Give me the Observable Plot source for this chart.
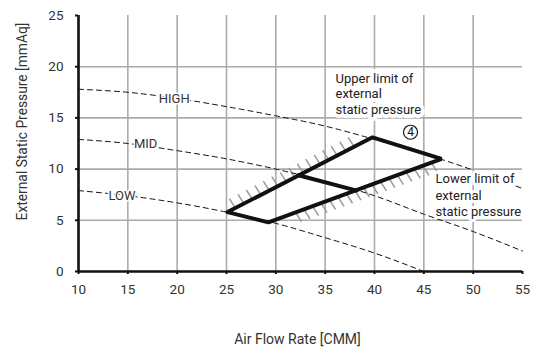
<!DOCTYPE html>
<html><head><meta charset="utf-8">
<script src="https://cdn.jsdelivr.net/npm/d3@7"></script>
<script src="https://cdn.jsdelivr.net/npm/@observablehq/plot@0.6"></script>
<style>
html,body{margin:0;padding:0;background:#fff;}
#chart svg{display:block;}
</style></head><body><div id="chart"></div>
<script>
// ---- data ----
const xTicks = [10,15,20,25,30,35,40,45,50,55];
const yTicks = [0,5,10,15,20,25];
const xGrid = [15,20,25,30,35,40,45,50];
const yGrid = [5,10,15,20];

const airFlow = [10,15,20,25,30,35,40,45,50,55];
const highP  = [17.8,17.5,16.9,16.1,15.2,14.2,12.9,11.5,9.9,8.1];
const midP   = [12.9,12.5,11.8,11.0,10.0,8.8,7.4,5.6,3.9,2.0];
const lowFlow = [10,15,20,25,30,35,40,45];
const lowP    = [7.9,7.4,6.7,5.8,4.7,3.3,1.8,0.0];

// operating range (4): left, top, right, bottom, back to left
const rangeFlow = [25.1,39.8,46.8,29.25,25.1];
const rangeP    = [5.8,13.1,11.0,4.8,5.8];
// inner division along MID
const innerFlow = [32.3,38.2];
const innerP    = [9.4,7.9];

const curveNames = ["HIGH","MID","LOW"];
const curveLabelFlow = [19.7,16.8,14.4];
const curveLabelP = [16.9,12.5,7.4];

const noteTexts = ["Upper limit of\nexternal\nstatic pressure", "Lower limit of\nexternal\nstatic pressure"];
const noteFlow = [36.05, 46.18];
const noteP = [19.5, 9.75];
const noteLineHeight = [1.2, 1.27];

const markText = ["4"];
const markFlow = [43.65];
const markP = [13.6];

const xTitle = "Air Flow Rate [CMM]";
const yTitle = "External Static Pressure [mmAq]";

// ---- layout ----
const W = 534, H = 349, ML = 78, MR = 12, MT = 15, MB = 78;
const xDomain = [10,55], yDomain = [0,25];

const pts = (xs, ys) => xs.map((x,i) => ({x, y: ys[i]}));

// hatch ticks along the two long edges of the range (decoration)
const pxX = (xDomain[1]-xDomain[0])/(W-ML-MR);
const pxY = (yDomain[1]-yDomain[0])/(H-MT-MB);
const hdx = 6*pxX, hdy = 9.5*pxY;
function edgeY(x0,y0,x1,y1,x){ return y0 + (y1-y0)*(x-x0)/(x1-x0); }
const hatches = [];
for (let x = 25.9; x <= 38.7; x += 0.86) {
  const y = edgeY(rangeFlow[0],rangeP[0],rangeFlow[1],rangeP[1],x);
  hatches.push({x1:x, y1:y, x2:x-hdx, y2:y+hdy});
}
for (let x = 32.0; x <= 46.6; x += 0.86) {
  const y = edgeY(rangeFlow[3],rangeP[3],rangeFlow[2],rangeP[2],x);
  hatches.push({x1:x, y1:y, x2:x+hdx, y2:y-hdy});
}

const font = "Roboto, 'Liberation Sans', sans-serif";

const chart = Plot.plot({
  width: W, height: H,
  marginLeft: ML, marginRight: MR, marginTop: MT, marginBottom: MB,
  x: {domain: xDomain},
  y: {domain: yDomain},
  style: {fontFamily: font, fontSize: "13px", color: "#222", background: "white"},
  marks: [
    Plot.ruleX(xGrid, {stroke: "#ababab", strokeWidth: 1.6}),
    Plot.ruleY(yGrid, {stroke: "#ababab", strokeWidth: 1.6}),
    // hatching
    Plot.link(hatches, {x1: "x1", y1: "y1", x2: "x2", y2: "y2", stroke: "#9a9a9a", strokeWidth: 1.5}),
    // fan curves
    Plot.line(pts(airFlow, highP), {x: "x", y: "y", curve: "monotone-x", stroke: "#111", strokeWidth: 1, strokeDasharray: "5,4"}),
    Plot.line(pts(airFlow, midP), {x: "x", y: "y", curve: "monotone-x", stroke: "#111", strokeWidth: 1, strokeDasharray: "5,4"}),
    Plot.line(pts(lowFlow, lowP), {x: "x", y: "y", curve: "monotone-x", stroke: "#111", strokeWidth: 1, strokeDasharray: "5,4"}),
    // operating range
    Plot.line(pts(rangeFlow, rangeP), {x: "x", y: "y", stroke: "#111", strokeWidth: 3.9, strokeLinejoin: "miter"}),
    Plot.line(pts(innerFlow, innerP), {x: "x", y: "y", stroke: "#111", strokeWidth: 3.9}),
    // axes
    Plot.ruleY([yDomain[0]], {stroke: "#111", strokeWidth: 2.6}),
    Plot.ruleX([xDomain[0]], {stroke: "#111", strokeWidth: 2.6}),
    Plot.axisX(xTicks, {tickSize: 3, tickPadding: 10, label: null, fontSize: 13.5, stroke: "#111", strokeWidth: 2, color: "#333"}),
    Plot.axisY(yTicks, {tickSize: 3, tickPadding: 12, label: null, fontSize: 13.5, stroke: "#111", strokeWidth: 2, color: "#333"}),
    // labels (white halo hides grid behind them)
    Plot.text(curveNames, {x: curveLabelFlow, y: curveLabelP, text: d => d, fill: "#333", stroke: "white", strokeWidth: 3, fontSize: 13}),
    Plot.text([noteTexts[0]], {x: [noteFlow[0]], y: [noteP[0]], text: d => d, textAnchor: "start", lineAnchor: "top",
      lineHeight: noteLineHeight[0], fill: "#222", stroke: "white", strokeWidth: 8, fontSize: 13, letterSpacing: "-0.2px"}),
    Plot.text([noteTexts[1]], {x: [noteFlow[1]], y: [noteP[1]], text: d => d, textAnchor: "start", lineAnchor: "top",
      lineHeight: noteLineHeight[1], fill: "#222", stroke: "white", strokeWidth: 6, fontSize: 13, letterSpacing: "-0.2px"}),
    Plot.dot(markText, {x: markFlow, y: markP, r: 7, fill: "white", stroke: "#111", strokeWidth: 1.2}),
    Plot.text(markText, {x: markFlow, y: markP, text: d => d, fill: "#111", fontSize: 12}),
    // titles
    Plot.text([xTitle], {frameAnchor: "bottom", dx: -3, dy: 68, lineAnchor: "middle", text: d => d, fontSize: 14, fill: "#333"}),
    Plot.text([yTitle], {frameAnchor: "left", dx: -56, dy: -22, rotate: -90, textAnchor: "middle", lineAnchor: "middle", text: d => d, fontSize: 13.8, fill: "#333"})
  ]
});
document.getElementById("chart").appendChild(chart);
</script>
</body></html>
